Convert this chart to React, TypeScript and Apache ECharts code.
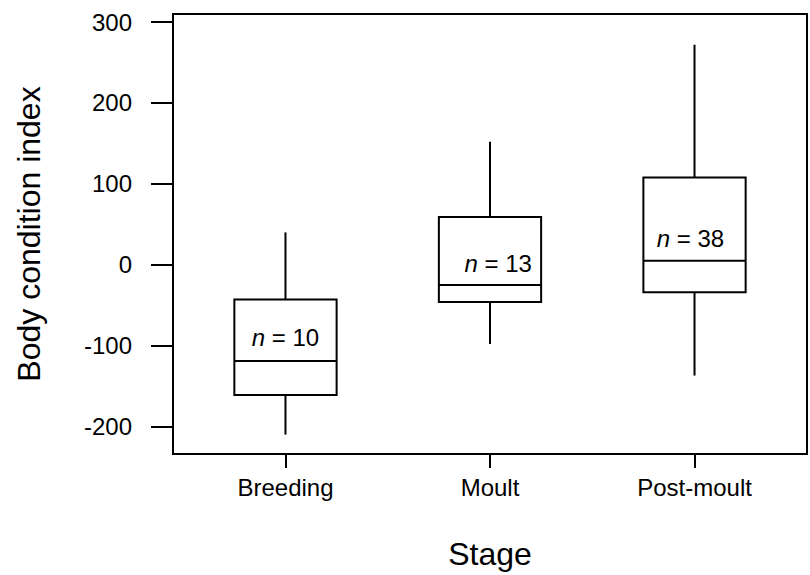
import React, { useEffect, useRef } from "react";
import * as echarts from "echarts";

// Body condition index by stage: box-and-whisker summaries
const stages = ["Breeding", "Moult", "Post-moult"];
const whiskerLow = [-210, -98, -137];
const lowerQuartile = [-161, -46, -34];
const medians = [-119, -25, 5];
const upperQuartile = [-43, 59, 108];
const whiskerHigh = [40, 152, 272];
const sampleSizes = [10, 13, 38];
const yTickValues = [-200, -100, 0, 100, 200, 300];

// where each "n = .." annotation sits, in axis units (stage position, index)
const nLabelX = [1.0, 2.04, 2.98];
const nLabelY = [-90, 2, 32];

const FONT = "Liberation Sans, Arial, Helvetica, sans-serif";
const SMALL = 24;
const TITLE = 32;

export default function App() {
  const ref = useRef<HTMLDivElement>(null);

  useEffect(() => {
    if (!ref.current) return;
    const chart = echarts.init(ref.current, undefined, { renderer: "svg" });

    const boxData = stages.map((_, i) => [
      i + 1,
      whiskerLow[i],
      lowerQuartile[i],
      medians[i],
      upperQuartile[i],
      whiskerHigh[i],
    ]);
    const labelData = stages.map((_, i) => [nLabelX[i], nLabelY[i], sampleSizes[i]]);

    chart.setOption({
      animation: false,
      backgroundColor: "#fff",
      textStyle: { fontFamily: FONT, color: "#000" },
      grid: {
        left: 173,
        top: 14,
        width: 634,
        height: 446,
        show: true,
        borderColor: "#000",
        borderWidth: 2,
        backgroundColor: "transparent",
      },
      xAxis: {
        type: "value",
        min: 0.45,
        max: 3.55,
        name: "Stage",
        nameLocation: "middle",
        nameGap: 100,
        nameTextStyle: { fontSize: TITLE, color: "#000", fontFamily: FONT, verticalAlign: "middle" },
        axisLine: { show: true, onZero: false, lineStyle: { color: "#000", width: 2 } },
        axisTick: {
          show: true,
          length: 14,
          lineStyle: { color: "#000", width: 2 },
          customValues: [1, 2, 3],
        },
        axisLabel: {
          fontSize: SMALL,
          color: "#000",
          fontFamily: FONT,
          margin: 21,
          customValues: [1, 2, 3],
          formatter: (v: number) => stages[Math.round(v) - 1] ?? "",
        },
        splitLine: { show: false },
      },
      yAxis: {
        type: "value",
        min: -234,
        max: 310,
        name: "Body condition index",
        nameLocation: "middle",
        nameGap: 144,
        nameRotate: 90,
        nameTextStyle: { fontSize: TITLE, color: "#000", fontFamily: FONT, verticalAlign: "middle" },
        axisLine: { show: true, onZero: false, lineStyle: { color: "#000", width: 2 } },
        axisTick: {
          show: true,
          length: 22,
          lineStyle: { color: "#000", width: 2 },
          customValues: yTickValues,
        },
        axisLabel: {
          fontSize: SMALL,
          color: "#000",
          fontFamily: FONT,
          margin: 41,
          customValues: yTickValues,
        },
        splitLine: { show: false },
      },
      series: [
        {
          type: "custom",
          data: boxData,
          encode: { x: 0, y: [1, 2, 3, 4, 5] },
          renderItem: (_params: any, api: any) => {
            const x = api.value(0);
            const lo = api.coord([x, api.value(1)]);
            const q1 = api.coord([x, api.value(2)]);
            const md = api.coord([x, api.value(3)]);
            const q3 = api.coord([x, api.value(4)]);
            const hi = api.coord([x, api.value(5)]);
            const half = api.coord([x + 0.25, 0])[0] - lo[0];
            const style = { stroke: "#000", lineWidth: 2, fill: "none" };
            return {
              type: "group",
              children: [
                { type: "line", shape: { x1: lo[0], y1: lo[1], x2: q1[0], y2: q1[1] }, style },
                { type: "line", shape: { x1: q3[0], y1: q3[1], x2: hi[0], y2: hi[1] }, style },
                {
                  type: "rect",
                  shape: { x: q3[0] - half, y: q3[1], width: 2 * half, height: q1[1] - q3[1] },
                  style,
                },
                { type: "line", shape: { x1: md[0] - half, y1: md[1], x2: md[0] + half, y2: md[1] }, style },
              ],
            };
          },
          z: 2,
        },
        {
          type: "custom",
          data: labelData,
          encode: { x: 0, y: 1 },
          silent: true,
          renderItem: (_params: any, api: any) => {
            const p = api.coord([api.value(0), api.value(1)]);
            return {
              type: "text",
              x: p[0],
              y: p[1],
              style: {
                text: `{it|n} = ${api.value(2)}`,
                fill: "#000",
                fontSize: SMALL,
                fontFamily: FONT,
                align: "center",
                verticalAlign: "middle",
                rich: {
                  it: { fontStyle: "italic", fontSize: SMALL, fill: "#000", fontFamily: FONT },
                },
              },
            };
          },
          z: 3,
        },
      ],
    });

    return () => chart.dispose();
  }, []);

  return (
    <div
      ref={ref}
      style={{ position: "fixed", left: 0, top: 0, width: 810, height: 575 }}
    />
  );
}
